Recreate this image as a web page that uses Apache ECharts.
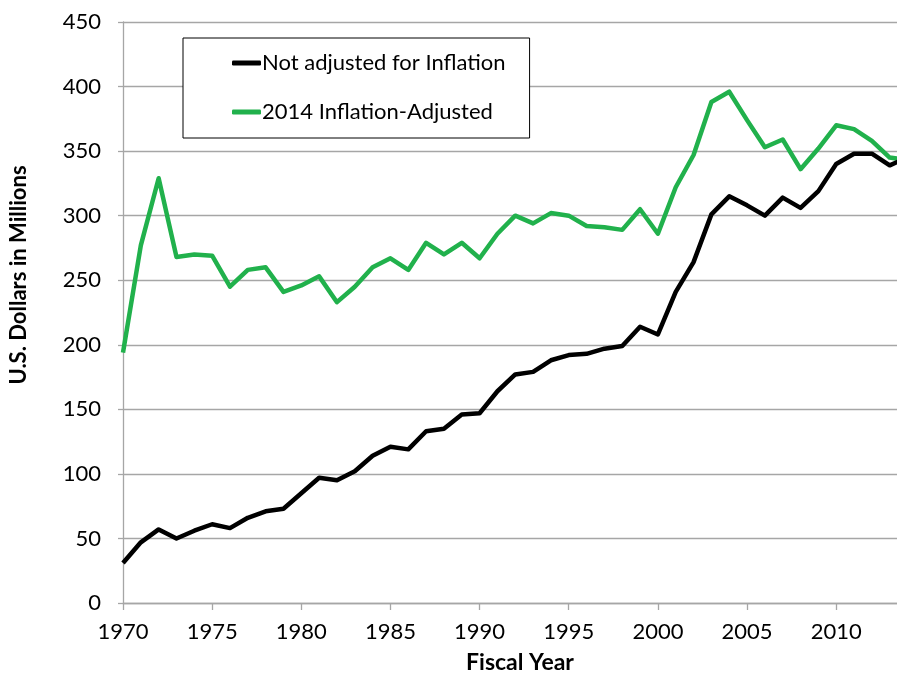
<!DOCTYPE html>
<html>
<head>
<meta charset="utf-8">
<script src="https://cdn.jsdelivr.net/npm/echarts@6/dist/echarts.min.js"></script>
<style>
html,body{margin:0;padding:0;background:#fff;}
#chart{width:897px;height:676px;}
</style>
</head>
<body>
<div id="chart"></div>
<script>
var years = [1970,1971,1972,1973,1974,1975,1976,1977,1978,1979,1980,1981,1982,1983,1984,1985,1986,1987,1988,1989,1990,1991,1992,1993,1994,1995,1996,1997,1998,1999,2000,2001,2002,2003,2004,2005,2006,2007,2008,2009,2010,2011,2012,2013,2014];
var notAdjusted = [31,47,57,50,56,61,58,66,71,73,85,97,95,102,114,121,119,133,135,146,147,164,177,179,188,192,193,197,199,214,208,241,264,301,315,308,300,314,306,319,340,348,348,339,345];
var adjusted2014 = [194,277,329,268,270,269,245,258,260,241,246,253,233,245,260,267,258,279,270,279,267,286,300,294,302,300,292,291,289,305,286,322,347,388,396,374,353,359,336,352,370,367,358,345,343];
var seriesNames = ['Not adjusted for Inflation', '2014 Inflation-Adjusted'];
var seriesColors = ['#000000', '#21b14c'];
var xTitle = 'Fiscal Year';
var yTitle = 'U.S. Dollars in Millions';

function pairs(vals){ return years.map(function(y,i){ return [y, vals[i]]; }); }

var FONT = 'Lato, "Open Sans", sans-serif';
var chart = echarts.init(document.getElementById('chart'), null, {renderer:'canvas'});
chart.setOption({
  backgroundColor: '#ffffff',
  animation: false,
  grid: { left: 123, top: 22, bottom: 73, right: 0, containLabel: false, outerBoundsMode: 'none' },
  legend: {
    orient: 'vertical',
    left: 183, top: 38,
    padding: [14, 24, 15, 49],
    itemGap: 27,
    itemWidth: 29, itemHeight: 5,
    icon: 'roundRect',
    backgroundColor: '#ffffff',
    borderColor: '#000000', borderWidth: 1,
    textStyle: { fontFamily: FONT, fontSize: 22, color: '#000', padding: [0, 0, 0, -4] },
    data: seriesNames
  },
  xAxis: {
    type: 'value', min: 1970, max: 2013.41, interval: 5,
    name: xTitle, nameLocation: 'middle', nameGap: 48,
    nameTextStyle: { fontFamily: FONT, fontSize: 23, fontWeight: 'bold', color: '#000', padding: [0, 0, 0, 20] },
    axisLine: { show: true, lineStyle: { color: '#a6a6a6', width: 1.3 } },
    axisTick: { show: true, length: 7, lineStyle: { color: '#a6a6a6', width: 1.3 } },
    axisLabel: { margin: 18, fontFamily: FONT, fontSize: 22, color: '#000', showMaxLabel: false,
      formatter: function(v){ return String(v); } },
    splitLine: { show: false }
  },
  yAxis: {
    type: 'value', min: 0, max: 450, interval: 50,
    axisLine: { show: true, lineStyle: { color: '#a6a6a6', width: 1.3 } },
    axisTick: { show: true, length: 5, lineStyle: { color: '#a6a6a6', width: 1.3 } },
    axisLabel: { margin: 22, fontFamily: FONT, fontSize: 22, color: '#000' },
    splitLine: { show: true, lineStyle: { color: '#a6a6a6', width: 1.3 } }
  },
  graphic: [{
    type: 'text', x: 19, y: 275, rotation: Math.PI/2,
    style: { text: yTitle, font: 'bold 22px ' + FONT, fill: '#000', textAlign: 'center', textVerticalAlign: 'middle' }
  }],
  series: [
    { name: seriesNames[0], type: 'line', data: pairs(notAdjusted), symbol: 'none', clip: true,
      lineStyle: { color: seriesColors[0], width: 4.5, join: 'round' }, itemStyle: { color: seriesColors[0] }, z: 3 },
    { name: seriesNames[1], type: 'line', data: pairs(adjusted2014), symbol: 'none', clip: true,
      lineStyle: { color: seriesColors[1], width: 4.5, join: 'round' }, itemStyle: { color: seriesColors[1] }, z: 2 }
  ]
});
</script>
</body>
</html>
